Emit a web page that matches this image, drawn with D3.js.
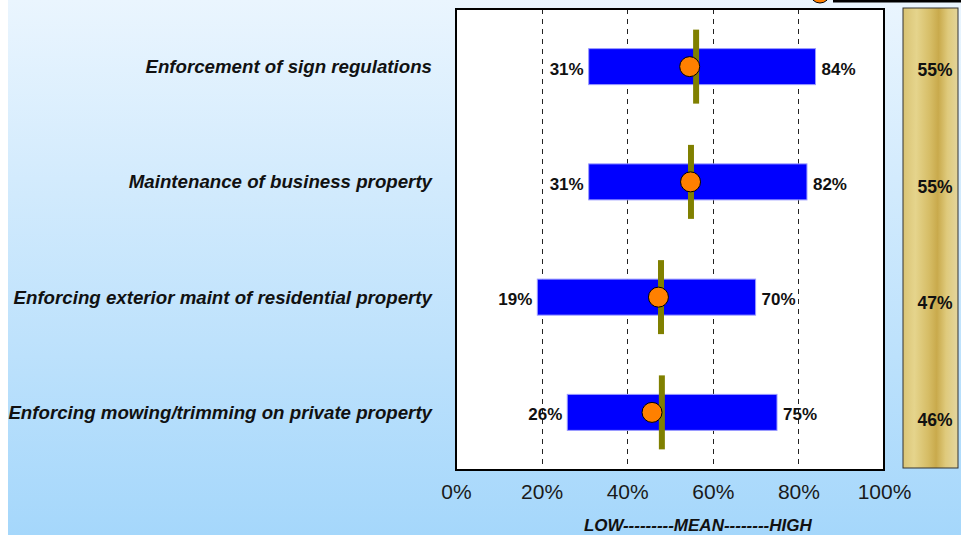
<!DOCTYPE html>
<html>
<head>
<meta charset="utf-8">
<script src="https://cdn.jsdelivr.net/npm/d3@7/dist/d3.min.js"></script>
<style>
  html, body { margin: 0; padding: 0; background: #ffffff; }
  svg { display: block; font-family: "Liberation Sans", Arial, sans-serif; }
</style>
</head>
<body>
<svg id="chart" width="961" height="535"></svg>
<script>
// Survey items, low/high range, mean marker and reference line (percent)
const categories = [
  "Enforcement of sign regulations",
  "Maintenance of business property",
  "Enforcing exterior maint of residential property",
  "Enforcing mowing/trimming on private property"
];
const lowValues  = [31, 31, 19, 26];
const highValues = [84, 82, 70, 75];
const meanValues = [54.6, 54.8, 47.3, 45.8];
const lineValues = [56.1, 54.9, 47.9, 48.1];
const tickValues = [0, 20, 40, 60, 80, 100];
const axisTitle = "LOW---------MEAN--------HIGH";

const rows = categories.map((c, i) => ({
  name: c, low: lowValues[i], high: highValues[i], mean: meanValues[i], line: lineValues[i]
}));

const svg = d3.select("#chart");
const defs = svg.append("defs");

// page background: pale at top to light sky blue at bottom
const bg = defs.append("linearGradient").attr("id", "bgGrad")
  .attr("x1", 0).attr("y1", 0).attr("x2", 0).attr("y2", 1);
bg.append("stop").attr("offset", 0).attr("stop-color", "#eaf5fe");
bg.append("stop").attr("offset", 1).attr("stop-color", "#a5d7fb");

// metallic gold strip
const gold = defs.append("linearGradient").attr("id", "goldGrad")
  .attr("x1", 0).attr("y1", 0).attr("x2", 1).attr("y2", 0.05);
[["0", "#d8c272"], ["0.25", "#e5d48c"], ["0.5", "#d6bd66"], ["0.65", "#c9aa4c"],
 ["0.82", "#dfca7c"], ["1", "#e3d49a"]].forEach(([o, c]) =>
  gold.append("stop").attr("offset", o).attr("stop-color", c));

svg.append("rect").attr("x", 8).attr("y", 0).attr("width", 953).attr("height", 535)
  .attr("fill", "url(#bgGrad)");

const plot = { left: 456, right: 884, top: 9, bottom: 470 };

const x = d3.scaleLinear().domain([0, 100]).range([plot.left, plot.right]);
const y = d3.scaleBand().domain(categories).range([plot.top, plot.bottom]);
const yc = d => y(d) + y.bandwidth() / 2;
const barH = 36;

// plot frame
svg.append("rect")
  .attr("x", plot.left).attr("y", plot.top)
  .attr("width", plot.right - plot.left).attr("height", plot.bottom - plot.top)
  .attr("fill", "#ffffff");

// dashed gridlines
svg.append("g").selectAll("line")
  .data(tickValues.filter(t => t > 0 && t < 100))
  .join("line")
  .attr("x1", d => Math.round(x(d)) + 0.5).attr("x2", d => Math.round(x(d)) + 0.5)
  .attr("y1", plot.top).attr("y2", plot.bottom)
  .attr("stroke", "#222").attr("stroke-width", 1).attr("stroke-dasharray", "5,5");

// low-high bars
svg.append("g").selectAll("rect")
  .data(rows).join("rect")
  .attr("x", d => x(d.low)).attr("width", d => x(d.high) - x(d.low))
  .attr("y", d => yc(d.name) - barH / 2).attr("height", barH)
  .attr("fill", "#0000ff").attr("stroke", "#9a9aff").attr("stroke-width", 1);

// reference lines
svg.append("g").selectAll("line")
  .data(rows).join("line")
  .attr("x1", d => x(d.line)).attr("x2", d => x(d.line))
  .attr("y1", d => yc(d.name) - 37).attr("y2", d => yc(d.name) + 37)
  .attr("stroke", "#808000").attr("stroke-width", 6);

// mean markers
svg.append("g").selectAll("circle")
  .data(rows).join("circle")
  .attr("cx", d => x(d.mean)).attr("cy", d => yc(d.name)).attr("r", 10)
  .attr("fill", "#ff8000").attr("stroke", "#000").attr("stroke-width", 1);

// value labels beside bars
const pct = v => Math.round(v) + "%";
svg.append("g").selectAll("text")
  .data(rows).join("text")
  .attr("x", d => x(d.low) - 5).attr("y", d => yc(d.name) + 2).attr("dy", "0.35em")
  .attr("text-anchor", "end").attr("font-size", 17).attr("font-weight", "bold")
  .attr("fill", "#111").text(d => pct(d.low));
svg.append("g").selectAll("text")
  .data(rows).join("text")
  .attr("x", d => x(d.high) + 6).attr("y", d => yc(d.name) + 2).attr("dy", "0.35em")
  .attr("text-anchor", "start").attr("font-size", 17).attr("font-weight", "bold")
  .attr("fill", "#111").text(d => pct(d.high));

// frame border on top
svg.append("rect")
  .attr("x", plot.left).attr("y", plot.top)
  .attr("width", plot.right - plot.left).attr("height", plot.bottom - plot.top)
  .attr("fill", "none").attr("stroke", "#000").attr("stroke-width", 2);

// category labels
svg.append("g").selectAll("text")
  .data(categories).join("text")
  .attr("x", 432).attr("y", d => yc(d)).attr("dy", "0.35em")
  .attr("text-anchor", "end").attr("font-size", 18.7)
  .attr("font-weight", "bold").attr("font-style", "italic")
  .attr("fill", "#111").text(d => d);

// x axis
const xAxis = d3.axisBottom(x).tickValues(tickValues).tickSize(0).tickPadding(0)
  .tickFormat(d => d + "%");
const ax = svg.append("g").attr("transform", `translate(0,${plot.bottom})`).call(xAxis);
ax.select(".domain").remove();
ax.selectAll("text").attr("y", 29).attr("dy", 0)
  .attr("font-size", 21).attr("fill", "#1a1a1a")
  .attr("font-family", "'Liberation Sans', Arial, sans-serif");

svg.append("text")
  .attr("x", x(56.5)).attr("y", 531)
  .attr("text-anchor", "middle").attr("font-size", 17)
  .attr("font-weight", "bold").attr("font-style", "italic").attr("fill", "#111")
  .text(axisTitle);

// gold summary strip with mean values
const strip = { x: 903, y: 8, w: 55, h: 460 };
svg.append("rect")
  .attr("x", strip.x).attr("y", strip.y).attr("width", strip.w).attr("height", strip.h)
  .attr("fill", "url(#goldGrad)").attr("stroke", "#333").attr("stroke-width", 1);
const yStrip = d3.scaleBand().domain(categories).range([11.4, 478.2]);
svg.append("g").selectAll("text")
  .data(rows).join("text")
  .attr("x", strip.x + 32).attr("y", d => yStrip(d.name) + yStrip.bandwidth() / 2)
  .attr("dy", "0.35em").attr("text-anchor", "middle")
  .attr("font-size", 17.5).attr("font-weight", "bold").attr("fill", "#111")
  .text(d => pct(d.mean));

// legend (top, partly outside the view)
svg.append("circle").attr("cx", 820).attr("cy", -7).attr("r", 10)
  .attr("fill", "#ff8000").attr("stroke", "#000").attr("stroke-width", 1);
svg.append("line").attr("x1", 833).attr("x2", 961).attr("y1", 1).attr("y2", 1)
  .attr("stroke", "#000").attr("stroke-width", 3);
</script>
</body>
</html>
